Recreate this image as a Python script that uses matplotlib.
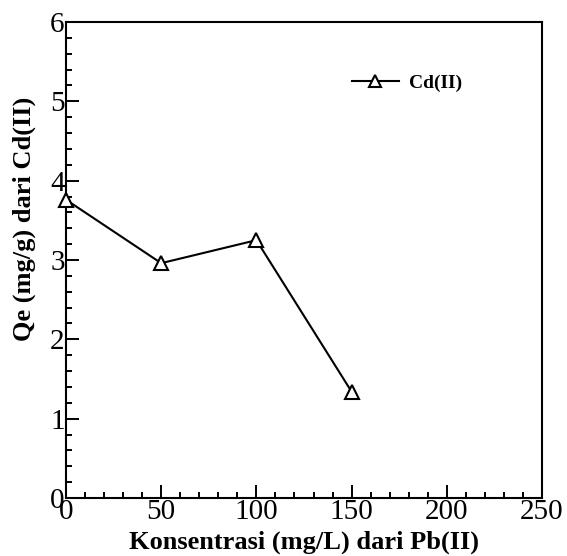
import numpy as np
import matplotlib.pyplot as plt
from matplotlib.ticker import MultipleLocator

plt.rcParams['font.family'] = ['Liberation Serif', 'DejaVu Serif']

konsentrasi = [0, 50, 100, 150]
qe_cd = [3.76, 2.96, 3.25, 1.34]

fig = plt.figure(figsize=(5.67, 5.56), dpi=100)
# axes frame: left 66px, right 542px, top 22px, bottom 498px
ax = fig.add_axes([66 / 567, 1 - 498 / 556, 476 / 567, 476 / 556])

ax.plot(konsentrasi, qe_cd, color='black', linewidth=1.5, marker='^',
        markersize=10, markerfacecolor='white', markeredgecolor='black',
        markeredgewidth=1.5, label='Cd(II)', clip_on=False, zorder=3)

ax.set_xlim(0, 250)
ax.set_ylim(0, 6)
ax.xaxis.set_major_locator(MultipleLocator(50))
ax.xaxis.set_minor_locator(MultipleLocator(10))
ax.yaxis.set_major_locator(MultipleLocator(1))
ax.yaxis.set_minor_locator(MultipleLocator(0.2))
ax.tick_params(which='both', direction='in', top=False, right=False, width=1.4)
ax.tick_params(which='major', length=9.5, labelsize=21, pad=1)
ax.tick_params(which='minor', length=4.5)
for s in ax.spines.values():
    s.set_linewidth(1.5)

ax.set_xlabel('Konsentrasi (mg/L) dari Pb(II)', fontsize=19, fontweight='bold', labelpad=4)
ax.set_ylabel('Qe (mg/g) dari Cd(II)', fontsize=19, fontweight='bold')
ax.yaxis.set_label_coords(-0.062, 0.586)

ax.legend(loc='center left', bbox_to_anchor=(0.601, 0.872), frameon=False,
          prop={'weight': 'bold', 'size': 14}, handlelength=2.4,
          handletextpad=0.55, borderpad=0, borderaxespad=0, markerscale=0.9)

fig.savefig('out.png', dpi=100)
